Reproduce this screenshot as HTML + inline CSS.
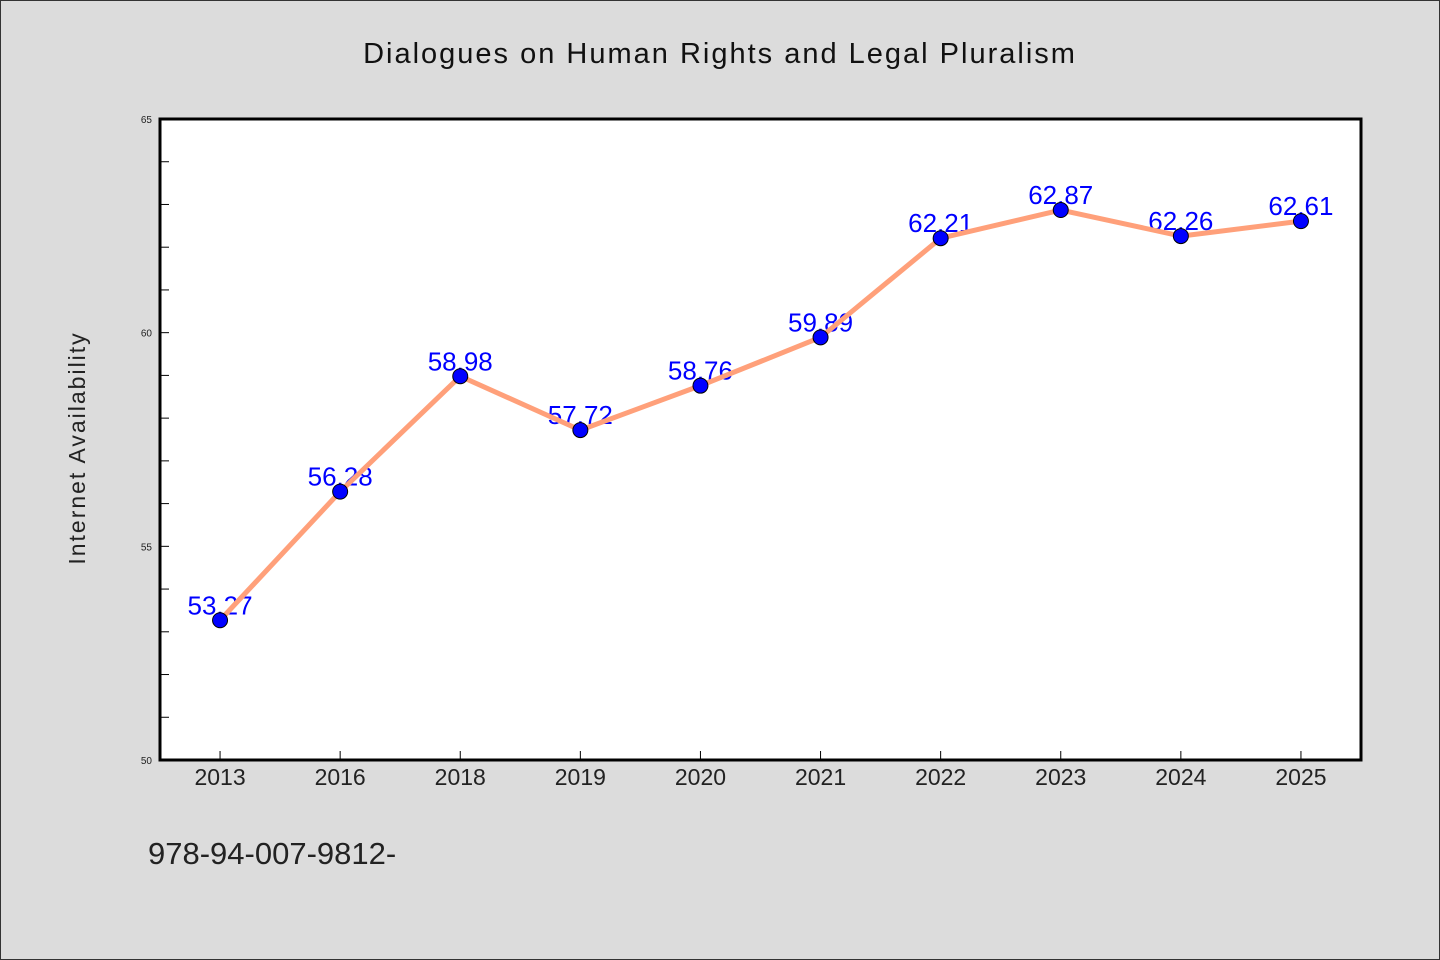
<!DOCTYPE html>
<html><head><meta charset="utf-8"><style>
html,body{margin:0;padding:0;background:#dcdcdc;}
svg{display:block;}
text{font-family:"WenQuanYi Zen Hei","Liberation Sans",sans-serif;}
</style></head><body>
<svg id="chart" width="1440" height="960" xmlns="http://www.w3.org/2000/svg">
<rect x="0.5" y="0.5" width="1439" height="959" fill="#dcdcdc" stroke="#333" stroke-width="1"/>
<text x="720" y="63" text-anchor="middle" font-size="29" fill="#111" letter-spacing="2">Dialogues on Human Rights and Legal Pluralism</text>
<rect x="160" y="119" width="1201" height="641" fill="#fff"/>
<g id="ticks"></g>
<g id="marks"></g>
<rect x="160" y="119" width="1201" height="641" fill="none" stroke="#000" stroke-width="3"/>
<text transform="translate(85,448) rotate(-90)" text-anchor="middle" font-size="23" fill="#222" letter-spacing="2">Internet Availability</text>
<text x="148" y="864" font-size="31" fill="#222">978-94-007-9812-</text>
</svg>
<script>
const categories=["2013","2016","2018","2019","2020","2021","2022","2023","2024","2025"];
const values=[53.27,56.28,58.98,57.72,58.76,59.89,62.21,62.87,62.26,62.61];
const yTickLabels=[50,55,60,65];
const yMin=50,yMax=65;
const NS="http://www.w3.org/2000/svg";
const L=160,R=1361,T=119,B=760;
function xPos(i){return L+(R-L)/categories.length*(i+0.5);}
function yPos(v){return B-(v-yMin)/(yMax-yMin)*(B-T);}
function mk(tag,attrs,parent){const e=document.createElementNS(NS,tag);for(const k in attrs)e.setAttribute(k,attrs[k]);parent.appendChild(e);return e;}
const tk=document.getElementById('ticks'),mg=document.getElementById('marks');
for(let v=yMin;v<=yMax;v++){
  const l=mk('line',{x1:L,x2:L+9,y1:yPos(v),y2:yPos(v),stroke:'#000','stroke-width':1},tk);
  
  
}
yTickLabels.forEach(v=>{
  const t=mk('text',{x:L-8,y:yPos(v)+4,'text-anchor':'end','font-size':10,fill:'#222'},tk);
  t.textContent=v;
  
  
});
categories.forEach((c,i)=>{
  const l=mk('line',{x1:xPos(i),x2:xPos(i),y1:B,y2:B-9,stroke:'#000','stroke-width':1},tk);
  
  
  const t=mk('text',{x:xPos(i),y:B+25,'text-anchor':'middle','font-size':23,fill:'#222'},tk);
  t.textContent=c;
  
  
});
values.forEach((v,i)=>{
  const t=mk('text',{x:xPos(i),y:yPos(v)-6,'text-anchor':'middle','font-size':26,fill:'#0000ff'},mg);
  t.textContent=v.toFixed(2);
  
  
});
const pl=mk('polyline',{points:values.map((v,i)=>xPos(i)+','+yPos(v)).join(' '),fill:'none',stroke:'#ffa07a','stroke-width':5,'stroke-linejoin':'round'},mg);


values.forEach((v,i)=>{
  const c=mk('circle',{cx:xPos(i),cy:yPos(v),r:7.5,fill:'#0000ff',stroke:'#000','stroke-width':1},mg);
  
  
});
</script>
</body></html>
